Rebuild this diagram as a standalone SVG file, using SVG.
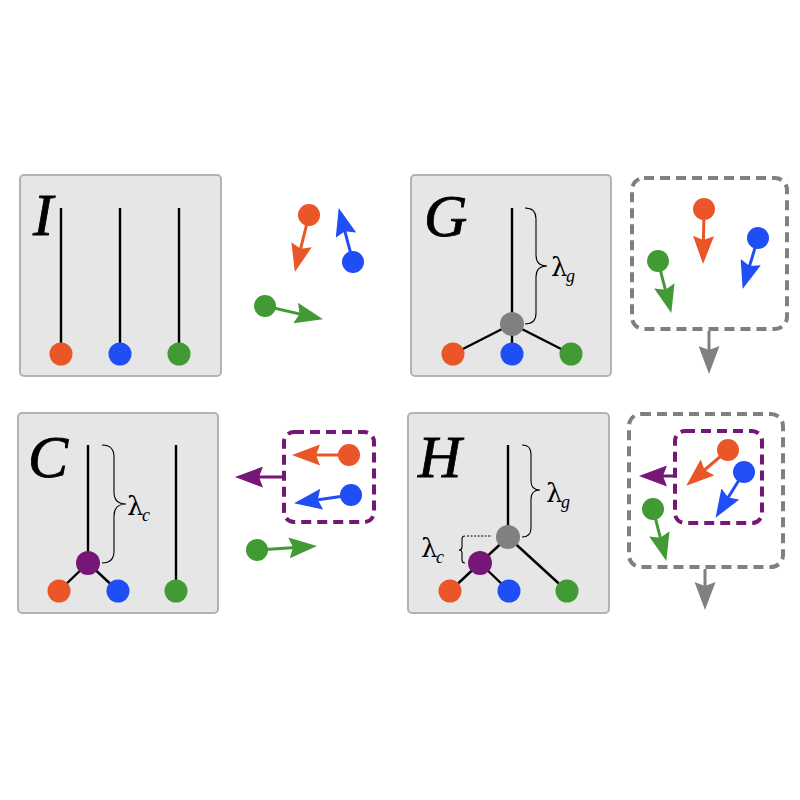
<svg xmlns="http://www.w3.org/2000/svg" width="800" height="800" viewBox="0 0 800 800">
<style>
.panel{fill:#e6e6e6;stroke:#b3b3b3;stroke-width:2}
.br{stroke:#000;stroke-width:2.4;fill:none}
.brace{stroke:#000;stroke-width:1.1;fill:none}
.big{font-family:"Liberation Serif","DejaVu Serif",serif;font-style:italic;font-size:60px;fill:#000;stroke:#000;stroke-width:0.8}
.lam{font-family:"DejaVu Serif","Liberation Serif",serif;font-size:26px;fill:#000}
.sub{font-family:"Liberation Serif","DejaVu Serif",serif;font-style:italic;font-size:18px;fill:#000}
.o{fill:#ea5628}.b{fill:#1f4ef5}.g{fill:#419a33}.p{fill:#761677}.k{fill:#808080}
.ao{stroke:#ea5628;stroke-width:3;fill:none;marker-end:url(#mo)}
.ab{stroke:#1f4ef5;stroke-width:3;fill:none;marker-end:url(#mb)}
.ag{stroke:#419a33;stroke-width:3;fill:none;marker-end:url(#mg)}
.ap{stroke:#761677;stroke-width:3;fill:none;marker-end:url(#mp)}
.ak{stroke:#808080;stroke-width:3;fill:none;marker-end:url(#mk)}
.dk{fill:none;stroke:#808080;stroke-width:4;stroke-dasharray:10 6}
.dp{fill:none;stroke:#761677;stroke-width:4;stroke-dasharray:10 6}
</style>
<defs>
<marker id="mo" markerUnits="userSpaceOnUse" markerWidth="28" markerHeight="21" viewBox="0 0 28 21" refX="7" refY="10.5" orient="auto"><path d="M0,0 L28,10.5 L0,21 L4,10.5 Z" fill="#ea5628"/></marker>
<marker id="mb" markerUnits="userSpaceOnUse" markerWidth="28" markerHeight="21" viewBox="0 0 28 21" refX="7" refY="10.5" orient="auto"><path d="M0,0 L28,10.5 L0,21 L4,10.5 Z" fill="#1f4ef5"/></marker>
<marker id="mg" markerUnits="userSpaceOnUse" markerWidth="28" markerHeight="21" viewBox="0 0 28 21" refX="7" refY="10.5" orient="auto"><path d="M0,0 L28,10.5 L0,21 L4,10.5 Z" fill="#419a33"/></marker>
<marker id="mp" markerUnits="userSpaceOnUse" markerWidth="28" markerHeight="21" viewBox="0 0 28 21" refX="7" refY="10.5" orient="auto"><path d="M0,0 L28,10.5 L0,21 L4,10.5 Z" fill="#761677"/></marker>
<marker id="mk" markerUnits="userSpaceOnUse" markerWidth="28" markerHeight="21" viewBox="0 0 28 21" refX="7" refY="10.5" orient="auto"><path d="M0,0 L28,10.5 L0,21 L4,10.5 Z" fill="#808080"/></marker>
</defs>

<g id="panel-I">
<rect class="panel" x="20" y="175" width="201" height="201" rx="4"/>
<text class="big" x="33" y="235">I</text>
<line class="br" x1="61" y1="208" x2="61" y2="354"/>
<line class="br" x1="120" y1="208" x2="120" y2="354"/>
<line class="br" x1="179" y1="208" x2="179" y2="354"/>
<circle class="o" cx="61" cy="354" r="11.5"/>
<circle class="b" cx="120" cy="354" r="11.5"/>
<circle class="g" cx="179" cy="354" r="11.5"/>
</g>

<g id="panel-G">
<rect class="panel" x="411" y="175" width="200" height="201" rx="4"/>
<text class="big" x="424" y="236">G</text>
<line class="br" x1="512" y1="208" x2="512" y2="324"/>
<line class="br" x1="512" y1="324" x2="453" y2="354"/>
<line class="br" x1="512" y1="324" x2="512" y2="354"/>
<line class="br" x1="512" y1="324" x2="571" y2="354"/>
<circle class="k" cx="512" cy="324" r="12"/>
<circle class="o" cx="453" cy="354" r="11.5"/>
<circle class="b" cx="512" cy="354" r="11.5"/>
<circle class="g" cx="571" cy="354" r="11.5"/>
<path class="brace" d="M525,208 Q536,208 536,219 L536,255 Q536,266 547,266 Q536,266 536,277 L536,313 Q536,324 525,324"/>
<text class="lam" x="551" y="276">λ</text><text class="sub" x="566" y="282">g</text>
</g>

<g id="panel-C">
<rect class="panel" x="18" y="413" width="200" height="200" rx="4"/>
<text class="big" x="28" y="477">C</text>
<line class="br" x1="88" y1="445" x2="88" y2="563"/>
<line class="br" x1="88" y1="563" x2="59" y2="591"/>
<line class="br" x1="88" y1="563" x2="118" y2="591"/>
<line class="br" x1="176" y1="445" x2="176" y2="591"/>
<circle class="p" cx="88" cy="563" r="12"/>
<circle class="o" cx="59" cy="591" r="11.5"/>
<circle class="b" cx="118" cy="591" r="11.5"/>
<circle class="g" cx="176" cy="591" r="11.5"/>
<path class="brace" d="M102,445 Q114,445 114,457 L114,492 Q114,504 126,504 Q114,504 114,516 L114,551 Q114,563 102,563"/>
<text class="lam" x="127" y="515">λ</text><text class="sub" x="142" y="521">c</text>
</g>

<g id="panel-H">
<rect class="panel" x="408" y="413" width="201" height="200" rx="4"/>
<text class="big" x="418" y="477">H</text>
<line class="br" x1="508" y1="445" x2="508" y2="537"/>
<line class="br" x1="508" y1="537" x2="480" y2="563"/>
<line class="br" x1="508" y1="537" x2="567" y2="591"/>
<line class="br" x1="480" y1="563" x2="450" y2="591"/>
<line class="br" x1="480" y1="563" x2="509" y2="591"/>
<circle class="k" cx="508" cy="537" r="12"/>
<circle class="p" cx="480" cy="563" r="12"/>
<circle class="o" cx="450" cy="591" r="11.5"/>
<circle class="b" cx="509" cy="591" r="11.5"/>
<circle class="g" cx="567" cy="591" r="11.5"/>
<path class="brace" d="M522,445 Q531,445 531,454 L531,481 Q531,490 540,490 Q531,490 531,499 L531,528 Q531,537 522,537"/>
<text class="lam" x="546" y="502">λ</text><text class="sub" x="561" y="508">g</text>
<path class="brace" d="M465,536 Q462,536 462,539 L462,547 Q462,550 459,550 Q462,550 462,553 L462,560 Q462,563 465,563"/>
<line x1="467" y1="536" x2="492" y2="536" stroke="#000" stroke-width="1" stroke-dasharray="2 1.5"/>
<text class="lam" x="421" y="557">λ</text><text class="sub" x="436" y="563">c</text>
</g>

<g id="box-G">
<rect class="dk" x="632" y="178" width="155" height="151" rx="12"/>
</g>
<g id="box-H">
<rect class="dk" x="629" y="414" width="154" height="153" rx="12"/>
<rect class="dp" x="675" y="431" width="87" height="92" rx="10"/>
</g>
<g id="box-C">
<rect class="dp" x="284" y="432" width="90" height="90" rx="10"/>
</g>

<g id="connectors">
<line class="ao" x1="309" y1="215" x2="299.9" y2="251.6"/>
<line class="ab" x1="353" y1="262" x2="344.1" y2="228.3"/>
<line class="ag" x1="265" y1="306" x2="302.5" y2="314.6"/>
<line class="ao" x1="704" y1="209" x2="703.4" y2="243"/>
<line class="ab" x1="758" y1="238" x2="748.7" y2="268.8"/>
<line class="ag" x1="658" y1="261" x2="666.1" y2="292.6"/>
<line class="ak" x1="709" y1="331" x2="709" y2="353"/>
<line class="ap" x1="284" y1="477" x2="256" y2="477"/>
<line class="ao" x1="349" y1="455" x2="313" y2="455"/>
<line class="ab" x1="351" y1="495" x2="314.8" y2="500.2"/>
<line class="ag" x1="257" y1="550" x2="296" y2="547.4"/>
<line class="ak" x1="705" y1="569" x2="705" y2="589"/>
<line class="ap" x1="675" y1="476" x2="660" y2="476"/>
<line class="ao" x1="728" y1="450" x2="702.2" y2="472"/>
<line class="ab" x1="744" y1="472" x2="726.6" y2="500"/>
<line class="ag" x1="653" y1="509" x2="661.1" y2="540.6"/>
</g>

<g id="particles">
<circle class="o" cx="309" cy="215" r="11"/>
<circle class="b" cx="353" cy="262" r="11"/>
<circle class="g" cx="265" cy="306" r="11"/>
<circle class="o" cx="704" cy="209" r="11"/>
<circle class="b" cx="758" cy="238" r="11"/>
<circle class="g" cx="658" cy="261" r="11"/>
<circle class="o" cx="349" cy="455" r="11"/>
<circle class="b" cx="351" cy="495" r="11"/>
<circle class="g" cx="257" cy="550" r="11"/>
<circle class="o" cx="728" cy="450" r="11"/>
<circle class="b" cx="744" cy="472" r="11"/>
<circle class="g" cx="653" cy="509" r="11"/>
</g>
</svg>
